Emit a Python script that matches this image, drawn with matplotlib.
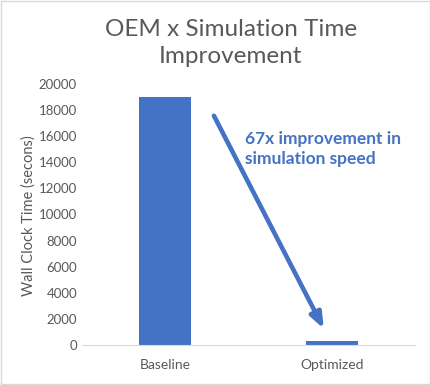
import matplotlib
matplotlib.use("Agg")
import matplotlib.pyplot as plt
from matplotlib.patches import Rectangle

# Chart data
categories = ["Baseline", "Optimized"]
wall_clock = [19000, 280]
y_ticks = [0, 2000, 4000, 6000, 8000, 10000, 12000, 14000, 16000, 18000, 20000]
note = "67x improvement in\nsimulation speed"

plt.rcParams['font.family'] = ['Lato', 'DejaVu Sans']
blue = '#4472C4'
grey = '#595959'

fig = plt.figure(figsize=(4.31, 3.85), dpi=100)
ax = fig.add_axes([0.190, 0.104, 0.773, 0.678])

x = range(len(categories))
ax.bar(x, wall_clock, width=0.31, color=blue)
ax.set_xlim(-0.5, 1.5)
ax.set_ylim(0, 20000)
ax.set_yticks(y_ticks)
ax.set_xticks(list(x))
ax.set_xticklabels(categories)
ax.tick_params(length=0, colors=grey, labelsize=9.5)
ax.tick_params(axis='x', pad=10, labelsize=10)
for s in ['top', 'right', 'left']:
    ax.spines[s].set_visible(False)
ax.spines['bottom'].set_color('#D9D9D9')

fig.text(0.066, 0.44, "Wall Clock Time (secons)", rotation=90, ha='center', va='center',
         color=grey, fontsize=10.5)

# title, two lines a bit further apart like the reference
fig.text(0.535, 0.95, "OEM x Simulation Time\nImprovement", ha='center', va='top',
         fontsize=17.5, color=grey, linespacing=1.35)

# arrow + note
ax.annotate("", xy=(0.96, 1050), xytext=(0.285, 17750),
            arrowprops=dict(arrowstyle='-|>,head_length=0.9,head_width=0.35',
                            color=blue, lw=3.3))
ax.text(0.48, 15000, note, color=blue, fontsize=12.5, fontweight='bold',
        va='center', ha='left', linespacing=1.3)

fig.patches.append(Rectangle((0.002, 0.002), 0.996, 0.996, transform=fig.transFigure,
                             fill=False, edgecolor='#D9D9D9', lw=1))

fig.savefig("out.png", dpi=100)
